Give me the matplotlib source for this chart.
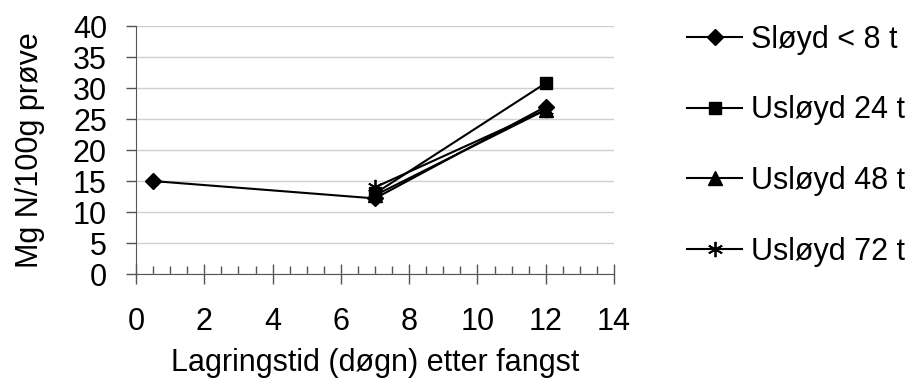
import numpy as np
import matplotlib
matplotlib.use("Agg")
import matplotlib.pyplot as plt
from matplotlib.ticker import MultipleLocator

plt.rcParams["font.family"] = ["Liberation Sans", "DejaVu Sans"]

# Data
x_sloyd = [0.5, 7, 12]
y_sloyd = [15, 12.2, 27]
x_usloyd = [7, 12]
y_usloyd24 = [13, 30.8]
y_usloyd48 = [12.7, 26.5]
y_usloyd72 = [14, 26.5]

labels = ["Sløyd < 8 t", "Usløyd 24 t", "Usløyd 48 t", "Usløyd 72 t"]

fig = plt.figure(figsize=(9.07, 3.78), dpi=100)
ax = fig.add_axes([0.15, 0.275, 0.527, 0.656])

ax.plot(x_sloyd, y_sloyd, color="black", lw=1.5, marker="D", ms=8.5, label=labels[0])
ax.plot(x_usloyd, y_usloyd24, color="black", lw=1.5, marker="s", ms=8.5, label=labels[1])
ax.plot(x_usloyd, y_usloyd48, color="black", lw=1.5, marker="^", ms=9.5, label=labels[2])
ax.plot(x_usloyd, y_usloyd72, color="black", lw=1.5, marker=(6, 2, 0), ms=11,
        mew=1.3, label=labels[3])

ax.set_xlim(0, 14)
ax.set_ylim(0, 40)
ax.xaxis.set_major_locator(MultipleLocator(2))
ax.xaxis.set_minor_locator(MultipleLocator(0.5))
ax.yaxis.set_major_locator(MultipleLocator(5))
ax.grid(axis="y", color="#d0d0d0", lw=1)
ax.set_axisbelow(True)

for s in ["top", "right"]:
    ax.spines[s].set_visible(False)
for s in ["left", "bottom"]:
    ax.spines[s].set_color("#555555")

ax.tick_params(axis="x", which="major", direction="inout", length=14, width=1,
               color="#555555", labelsize=22, pad=17)
ax.tick_params(axis="x", which="minor", direction="in", length=6, width=1,
               color="#555555")
ax.tick_params(axis="y", direction="out", length=7, width=1, color="#555555",
               labelsize=22, pad=14)

ax.set_xlabel("Lagringstid (døgn) etter fangst", fontsize=22, labelpad=8)
ax.set_ylabel("Mg N/100g prøve", fontsize=22, labelpad=20)

ax.legend(loc="upper left", bbox_to_anchor=(1.153, 1.006), frameon=False,
          fontsize=22, handlelength=1.8, handletextpad=0.3, labelspacing=1.33,
          borderaxespad=0, borderpad=0)

fig.savefig("out.png", dpi=100)
